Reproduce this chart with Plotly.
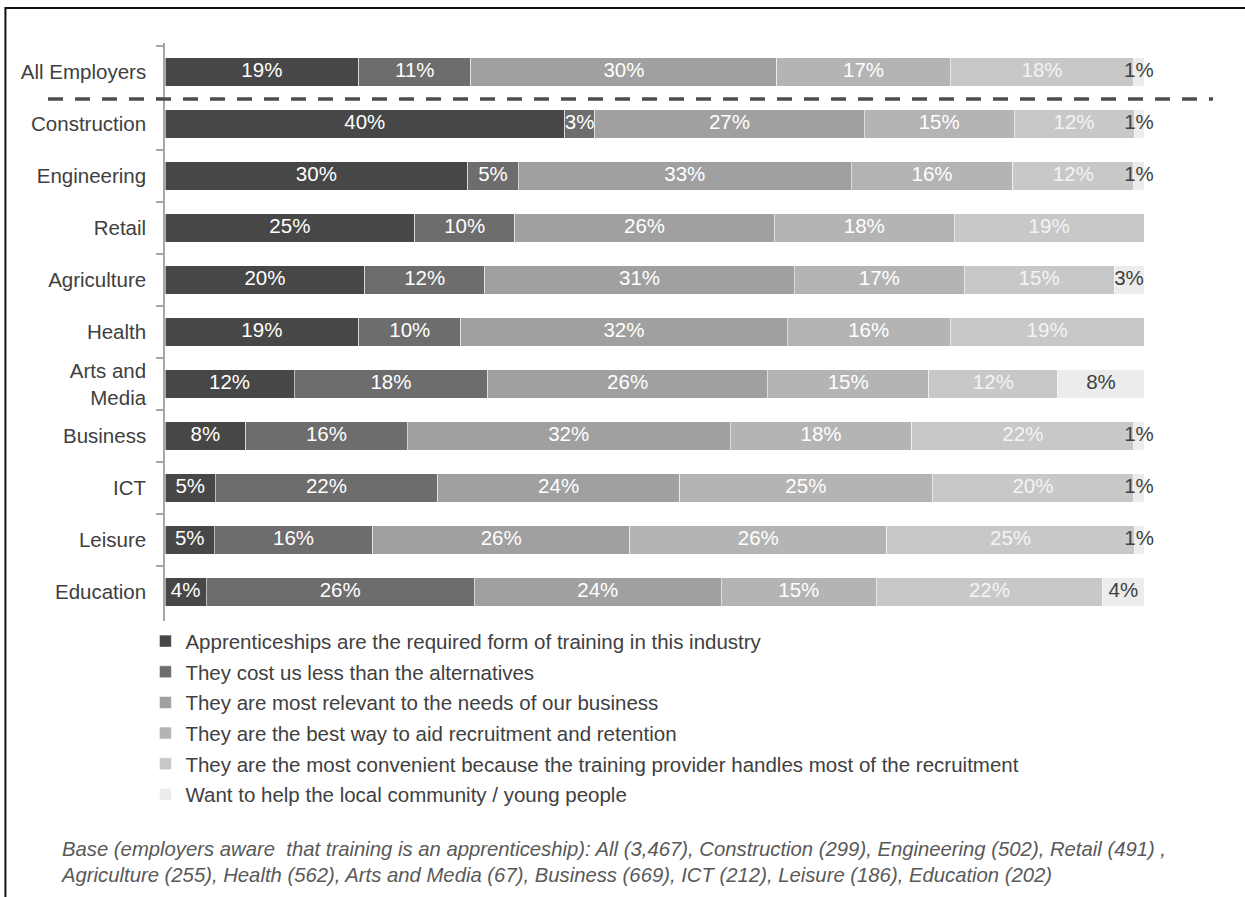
import plotly.graph_objects as go

# Sectors (top to bottom) and reasons for choosing apprenticeships (% of employers)
sectors = ["All Employers", "Construction", "Engineering", "Retail", "Agriculture",
           "Health", "Arts and<br>Media", "Business", "ICT", "Leisure", "Education"]

reasons = [
    "Apprenticeships are the required form of training in this industry",
    "They cost us less than the alternatives",
    "They are most relevant to the needs of our business",
    "They are the best way to aid recruitment and retention",
    "They are the most convenient because the training provider handles most of the recruitment",
    "Want to help the local community / young people",
]

required_form = [19, 40, 30, 25, 20, 19, 12, 8, 5, 5, 4]
cost_less = [11, 3, 5, 10, 12, 10, 18, 16, 22, 16, 26]
most_relevant = [30, 27, 33, 26, 31, 32, 26, 32, 24, 26, 24]
recruitment = [17, 15, 16, 18, 17, 16, 15, 18, 25, 26, 15]
convenient = [18, 12, 12, 19, 15, 19, 12, 22, 20, 25, 22]
community = [1, 1, 1, 0, 3, 0, 8, 1, 1, 1, 4]

series = [required_form, cost_less, most_relevant, recruitment, convenient, community]
colors = ["#474747", "#6d6d6d", "#a0a0a0", "#b4b4b4", "#c8c8c8", "#ececec"]
label_colors = ["#ffffff", "#ffffff", "#ffffff", "#ffffff", "#f4f4f4", "#404040"]

footnote = ("Base (employers aware  that training is an apprenticeship): All (3,467), Construction (299), "
            "Engineering (502), Retail (491) ,<br>Agriculture (255), Health (562), Arts and Media (67), "
            "Business (669), ICT (212), Leisure (186), Education (202)")

FONT = "Liberation Sans, Arial, sans-serif"
FS = 20.5
TEXT_GREY = "#404040"

fig = go.Figure()

# 100% stacked bars (each row normalised to its own total)
for i, (name, vals) in enumerate(zip(reasons, series)):
    fig.add_trace(go.Bar(
        y=sectors,
        x=vals,
        name=name,
        legendgroup=f"reason{i}",
        orientation="h",
        marker=dict(color=colors[i], line=dict(color="rgba(255,255,255,0.55)", width=1)),
        hoverinfo="skip",
    ))

# Value labels centred on each segment (small segments may overhang)
totals = [sum(s[k] for s in series) for k in range(len(sectors))]
running = [0.0] * len(sectors)
for i, vals in enumerate(series):
    lab_x, lab_y, lab_t = [], [], []
    for k, sec in enumerate(sectors):
        v = vals[k]
        if v > 0:
            lab_x.append((running[k] + v / 2) / totals[k] * 100)
            lab_y.append(sec)
            lab_t.append(f"{v}%")
        running[k] += v
    fig.add_trace(go.Scatter(
        x=lab_x, y=lab_y, text=lab_t, mode="text", textposition="middle center",
        textfont=dict(family=FONT, size=FS, color=label_colors[i]),
        cliponaxis=False, showlegend=False, hoverinfo="skip",
    ))

fig.update_layout(
    width=1245, height=897,
    barmode="stack", barnorm="percent", bargap=0.45,
    paper_bgcolor="white", plot_bgcolor="white",
    margin=dict(l=165, r=101, t=43, b=276),
    font=dict(family=FONT, size=FS, color=TEXT_GREY),
    showlegend=True,
    legend=dict(
        orientation="v", traceorder="grouped", tracegroupgap=1,
        x=-0.020, xanchor="left", y=-0.0005, yanchor="top",
        font=dict(family=FONT, size=FS, color=TEXT_GREY),
        bgcolor="rgba(0,0,0,0)", itemclick=False, itemdoubleclick=False,
    ),
    xaxis=dict(range=[0, 100], visible=False, fixedrange=True),
    yaxis=dict(
        autorange="reversed", showline=True, linecolor="#a6a6a6", linewidth=1.5,
        ticks="outside", tickson="boundaries", ticklen=7, tickcolor="#a6a6a6",
        tickwidth=1.5, showgrid=False, ticklabelstandoff=13,
        tickfont=dict(family=FONT, size=FS, color=TEXT_GREY), fixedrange=True,
    ),
    annotations=[dict(
        text=footnote, xref="paper", yref="paper", x=-0.108, y=-0.3727,
        xanchor="left", yanchor="top", align="left", showarrow=False,
        font=dict(family=FONT, size=20.3, color="#595959", style="italic"),
    )],
    shapes=[
        # dashed separator between the overall figure and the sectors
        dict(type="line", xref="paper", yref="y", x0=-0.1195, x1=1.0705, y0=0.52, y1=0.52,
             line=dict(color="#4d4d4d", width=3.5, dash="15px,12px")),
        # outer frame
        dict(type="rect", xref="paper", yref="paper", x0=-0.163, x1=2.0,
             y0=-2.0, y1=1.0606, line=dict(color="#111111", width=2)),
    ],
)

fig.write_html("out.html")
